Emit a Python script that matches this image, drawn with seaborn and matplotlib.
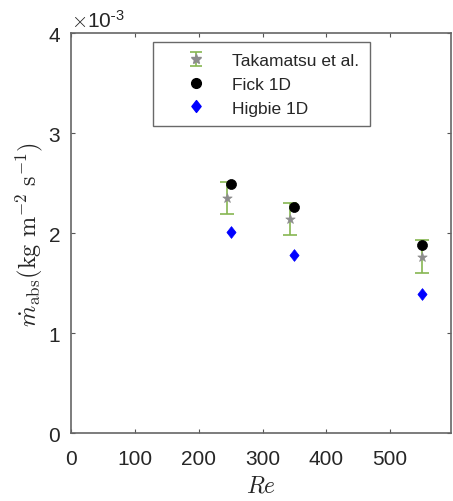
import matplotlib
matplotlib.use("Agg")
import matplotlib.pyplot as plt
import seaborn as sns
import pandas as pd
import numpy as np
from matplotlib.legend_handler import HandlerErrorbar
from matplotlib.path import Path

# Data (values in units of 1e-3 kg m^-2 s^-1)
re_tak = [245, 343, 550]
tak_mean = [2.35, 2.14, 1.76]
tak_low = [2.19, 1.98, 1.60]
tak_high = [2.51, 2.30, 1.93]

re_model = [250, 350, 550]
fick_1d = [2.49, 2.26, 1.88]
higbie_1d = [2.01, 1.78, 1.39]

labels = ["Takamatsu et al.", "Fick 1D", "Higbie 1D"]
x_ticks = [0, 100, 200, 300, 400, 500]
y_ticks = [0, 1, 2, 3, 4]

sns.set_theme(style="white")
plt.rcParams['font.family'] = ['Liberation Sans', 'DejaVu Sans']
plt.rcParams['mathtext.fontset'] = 'cm'

fig = plt.figure(figsize=(4.53, 5.02), dpi=100)
ax = fig.add_axes([0.157, 0.135, 0.838, 0.797])

green = '#86b652'
gray = '#8c8c8c'
blue = '#0000ff'
diamond = Path([(0, 1), (0.78, 0), (0, -1), (-0.78, 0), (0, 1)],
               [Path.MOVETO, Path.LINETO, Path.LINETO, Path.LINETO, Path.CLOSEPOLY])

tak_df = pd.DataFrame({"Re": re_tak, "m": tak_mean})
fick_df = pd.DataFrame({"Re": re_model, "m": fick_1d})
hig_df = pd.DataFrame({"Re": re_model, "m": higbie_1d})

yerr = [np.array(tak_mean) - np.array(tak_low), np.array(tak_high) - np.array(tak_mean)]
ax.errorbar(re_tak, tak_mean, yerr=yerr, fmt='none', ecolor=green,
            elinewidth=1.2, capsize=5, capthick=1.2, zorder=2)
sns.scatterplot(data=tak_df, x="Re", y="m", marker='*', s=50, color=gray,
                edgecolor=gray, linewidth=0.5, ax=ax, zorder=3)
sns.scatterplot(data=fick_df, x="Re", y="m", marker='o', s=52, color='black',
                edgecolor='black', linewidth=0.5, ax=ax, zorder=4)
sns.scatterplot(data=hig_df, x="Re", y="m", marker=diamond, s=72, color=blue,
                edgecolor=blue, linewidth=0.5, ax=ax, zorder=4)

ax.set_xlim(0, 595)
ax.set_ylim(0, 4)
ax.set_xticks(x_ticks)
ax.set_yticks(y_ticks)
ax.set_xticklabels([str(v) for v in x_ticks])
ax.set_yticklabels([str(v) for v in y_ticks])
ax.tick_params(direction='in', length=3, width=0.8, color='#555555',
               labelsize=15, labelcolor='#262626', top=True, right=True,
               bottom=True, left=True)
ax.tick_params(axis='y', pad=8)
ax.tick_params(axis='x', pad=11)
for sp in ax.spines.values():
    sp.set_visible(True)
    sp.set_color('#666666')
    sp.set_linewidth(1.2)

ax.set_xlabel(r'$Re$', fontsize=17, labelpad=5, color='#262626')
ax.set_ylabel(r'$\dot{m}_{\rm abs}(\rm kg\ m^{-2}\ s^{-1})$', fontsize=17.5,
              labelpad=2, color='#262626')
ax.text(0.0, 1.005, r'$\times\mathregular{10^{\text{-}3}}$', transform=ax.transAxes,
        fontsize=15, color='#262626', ha='left', va='bottom')

# legend-only handles
tak_handle = ax.errorbar([np.nan], [np.nan], yerr=[[0.1], [0.1]], fmt='*', color=gray,
                         markersize=7, ecolor=green, elinewidth=1.2, capsize=4,
                         capthick=1.2)
fick_handle, = ax.plot([], [], marker='o', color='black', linestyle='none', markersize=7)
hig_handle, = ax.plot([], [], marker=diamond, color=blue, linestyle='none', markersize=8.5)
leg = ax.legend([tak_handle, fick_handle, hig_handle], labels,
                loc='upper left', bbox_to_anchor=(0.2145, 0.977),
                fontsize=12.5, frameon=True, fancybox=False, edgecolor='#444444',
                handletextpad=0.2, handlelength=3.8, borderpad=0.6,
                labelspacing=0.5, borderaxespad=0,
                handler_map={type(tak_handle): HandlerErrorbar(xerr_size=0.3, yerr_size=0.4)})
leg.get_frame().set_linewidth(1.0)

fig.savefig("out.png", dpi=100)
